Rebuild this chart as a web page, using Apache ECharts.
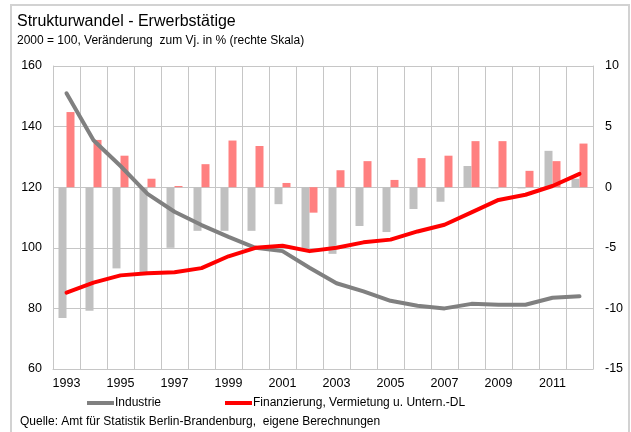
<!DOCTYPE html>
<html>
<head>
<meta charset="utf-8">
<script src="https://cdn.jsdelivr.net/npm/echarts@6/dist/echarts.min.js"></script>
<style>
  html, body { margin: 0; padding: 0; background: #fff; }
  #chart { width: 631px; height: 432px; }
</style>
</head>
<body>
<div id="chart"></div>
<script>
// Erwerbstätige Berlin, Index 2000 = 100 (linke Skala) und Veränderung zum Vj. in % (rechte Skala)
const years = ['1993', '1994', '1995', '1996', '1997', '1998', '1999', '2000', '2001', '2002',
  '2003', '2004', '2005', '2006', '2007', '2008', '2009', '2010', '2011', '2012'];
const industrieIndex = [151.0, 135.5, 127.0, 117.8, 111.9, 107.5, 103.6, 100.0, 98.9, 93.4,
  88.3, 85.6, 82.5, 80.9, 80.0, 81.5, 81.2, 81.2, 83.5, 84.0];
const finanzIndex = [85.2, 88.5, 90.9, 91.6, 91.9, 93.3, 97.2, 100.0, 100.7, 98.9,
  100.0, 101.8, 102.7, 105.4, 107.6, 111.7, 115.8, 117.5, 120.4, 124.4];
const industrieVj = [-10.8, -10.2, -6.7, -7.0, -5.0, -3.6, -3.6, -3.6, -1.4, -5.1,
  -5.5, -3.2, -3.7, -1.8, -1.2, 1.75, -0.1, -0.1, 3.0, 0.7];
const finanzVj = [6.2, 3.9, 2.6, 0.7, 0.1, 1.9, 3.85, 3.4, 0.35, -2.1,
  1.4, 2.15, 0.6, 2.4, 2.6, 3.8, 3.8, 1.35, 2.15, 3.6];

const font = '"Liberation Sans", Arial, sans-serif';
const gridColor = '#c6c6c6';

const chart = echarts.init(document.getElementById('chart'));

chart.setOption({
  animation: false,
  textStyle: { fontFamily: font, color: '#000' },
  title: [
    {
      text: 'Strukturwandel - Erwerbstätige',
      left: 17, top: 14, padding: 0,
      textStyle: { fontFamily: font, fontSize: 16, fontWeight: 'normal', color: '#000' }
    },
    {
      text: '2000 = 100, Veränderung  zum Vj. in % (rechte Skala)',
      left: 17, top: 35, padding: 0,
      textStyle: { fontFamily: font, fontSize: 12, fontWeight: 'normal', color: '#000' }
    },
    {
      text: 'Quelle: Amt für Statistik Berlin-Brandenburg,  eigene Berechnungen',
      left: 20, top: 416, padding: 0,
      textStyle: { fontFamily: font, fontSize: 12, fontWeight: 'normal', color: '#000' }
    }
  ],
  graphic: [
    {
      type: 'rect',
      shape: { x: 11, y: 5, width: 618, height: 460 },
      style: { fill: 'none', stroke: '#d2d2d2', lineWidth: 2 },
      silent: true, z: -10
    }
  ],
  legend: {
    data: ['Industrie', 'Finanzierung, Vermietung u. Untern.-DL'],
    left: 87, top: 397, padding: 0,
    icon: 'rect',
    itemWidth: 27, itemHeight: 4,
    itemGap: 64,
    textStyle: { fontFamily: font, fontSize: 12, color: '#000', padding: [0, 0, 0, -4] }
  },
  grid: { left: 53, right: 38, top: 66, bottom: 63 },
  xAxis: {
    type: 'category',
    data: years,
    boundaryGap: true,
    axisLine: { show: true, onZero: false, lineStyle: { color: gridColor } },
    axisTick: { show: false },
    axisLabel: { interval: 1, color: '#000', fontSize: 12.5, margin: 8 },
    splitLine: { show: true, interval: 0, lineStyle: { color: gridColor } }
  },
  yAxis: [
    {
      type: 'value',
      min: 60, max: 160, interval: 20,
      axisLine: { show: true, lineStyle: { color: gridColor } },
      axisTick: { show: false },
      axisLabel: { color: '#000', fontSize: 12.5, margin: 11 },
      splitLine: { lineStyle: { color: gridColor } }
    },
    {
      type: 'value',
      min: -15, max: 10, interval: 5,
      axisLine: { show: true, lineStyle: { color: gridColor } },
      axisTick: { show: false },
      axisLabel: { color: '#000', fontSize: 12.5, margin: 12 },
      splitLine: { show: false }
    }
  ],
  series: [
    {
      name: 'Industrie Vj.',
      type: 'bar',
      yAxisIndex: 1,
      data: industrieVj,
      barWidth: 8,
      barGap: '0%',
      itemStyle: { color: '#c0c0c0' }
    },
    {
      name: 'Finanzierung Vj.',
      type: 'bar',
      yAxisIndex: 1,
      data: finanzVj,
      barWidth: 8,
      itemStyle: { color: '#ff8080' }
    },
    {
      name: 'Industrie',
      type: 'line',
      data: industrieIndex,
      symbol: 'none',
      lineStyle: { color: '#808080', width: 4, cap: 'round', join: 'round' },
      itemStyle: { color: '#808080' },
      z: 5
    },
    {
      name: 'Finanzierung, Vermietung u. Untern.-DL',
      type: 'line',
      data: finanzIndex,
      symbol: 'none',
      lineStyle: { color: '#ff0000', width: 4, cap: 'round', join: 'round' },
      itemStyle: { color: '#ff0000' },
      z: 6
    }
  ]
});
</script>
</body>
</html>
